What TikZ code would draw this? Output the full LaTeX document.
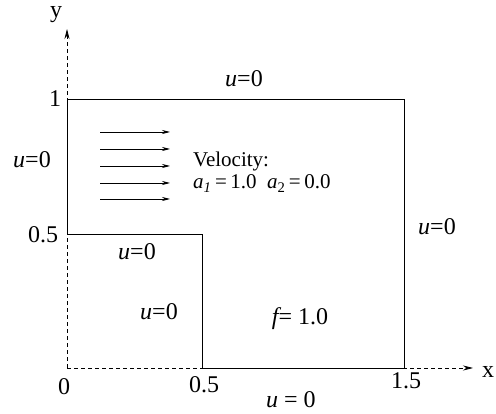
\documentclass[tikz,border=0pt]{standalone}
\usepackage{fontspec}
\setmainfont{Liberation Serif}
\usetikzlibrary{arrows.meta}
\begin{document}
\begin{tikzpicture}[x=1pt,y=-1pt,
  lbl/.style={inner sep=0pt,anchor=base,font=\fontsize{24}{28}\selectfont},
  vel/.style={inner sep=0pt,anchor=base west,font=\fontsize{21}{25}\selectfont},
  wall/.style={line width=0.8pt},
  axis/.style={line width=0.8pt,dash pattern=on 4pt off 3pt,-{Stealth[length=10pt,width=5pt]}},
  flow/.style={line width=0.7pt,-{Stealth[length=8pt,width=4pt]}}]
\useasboundingbox (0,0) rectangle (496,414);
% coordinates
\coordinate (O) at (67,368);
\coordinate (A) at (202,368);
\coordinate (B) at (404,368);
\coordinate (C) at (404,99);
\coordinate (D) at (67,99);
\coordinate (E) at (67,234);
\coordinate (F) at (202,234);
\coordinate (YT) at (67,29);
\coordinate (XT) at (473,368);
% axes
\draw[axis] (O) -- (YT);
\draw[axis] (O) -- (XT);
% domain
\draw[wall] (A) -- (B) -- (C) -- (D) -- (E) -- (F) -- cycle;
% velocity arrows
\foreach \i/\yy in {1/132,2/149,3/166,4/183,5/199}{
  \coordinate (s\i) at (100,\yy);
  \coordinate (t\i) at (170,\yy);
  \draw[flow] (s\i) -- (t\i);
}
% labels
\node[lbl] (ylab) at (56,18) {y};
\node[lbl,anchor=base west] (xlab) at (482,378) {x};
\node[lbl] (one) at (55,107) {1};
\node[lbl] (half) at (43,243) {0.5};
\node[lbl] (zero) at (64,395) {0};
\node[lbl] (xhalf) at (204,392) {0.5};
\node[lbl] (xonehalf) at (406,389) {1.5};
\node[lbl] (utop) at (244,87) {{\itshape u}=0};
\node[lbl] (uleft) at (32,168) {{\itshape u}=0};
\node[lbl] (uright) at (437,235) {{\itshape u}=0};
\node[lbl] (uledge) at (137,260) {{\itshape u}=0};
\node[lbl] (uvert) at (159,320) {{\itshape u}=0};
\node[lbl] (fval) at (300,325) {{\itshape f}= 1.0};
\node[lbl] (ubot) at (291,407) {{\itshape u} = 0};
\node[vel] (vtitle) at (193,167) {Velocity:};
\node[vel] (vvals) at (193,189) {{\itshape a}\textsubscript{\itshape 1}\,=\,1.0\ \ {\itshape a}\textsubscript{2}\,=\,0.0};
\end{tikzpicture}
\end{document}
